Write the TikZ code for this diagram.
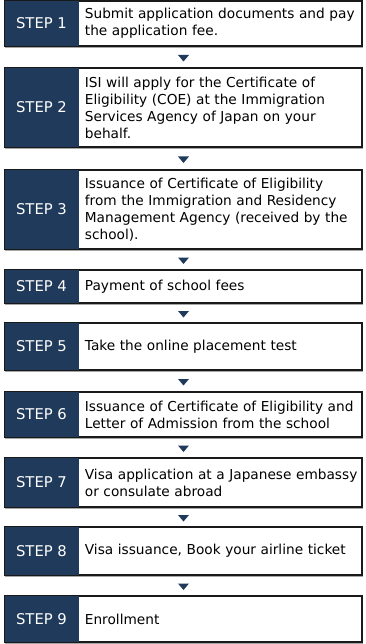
\documentclass[tikz,border=0pt]{standalone}
\usepackage{fontspec}
\setmainfont{DejaVu Sans}
\usetikzlibrary{calc}
\definecolor{navy}{RGB}{31,58,90}
\tikzset{
  framebox/.style={draw=black!90, line width=1.4pt, fill=white, inner sep=0pt, minimum width=357pt},
  shadowbox/.style={draw=black!35, line width=1.4pt, inner sep=0pt, minimum width=357pt},
  panel/.style={fill=navy, inner sep=0pt, minimum width=74pt, text=white, font=\fontsize{14.8}{16}\selectfont},
  txt/.style={inner sep=0pt, text width=278pt, align=left, font=\fontsize{13.7}{17}\selectfont},
  tri/.style={fill=navy}
}
\newcommand\mkstep[4]{%
  \pgfmathsetmacro\hh{#3-#2}%
  \node[shadowbox, minimum height=\hh pt] (sh#1) at (184,{(#2+#3)/2+1}) {};
  \node[framebox, minimum height=\hh pt] (b#1) at (183.5,{(#2+#3)/2}) {};
  \node[panel, minimum height=\hh pt, anchor=west] (s#1) at (b#1.west) {STEP #1};
  \draw[black!90, line width=1.4pt] (b#1.north west) rectangle (b#1.south east);
  \node[txt, anchor=west] (t#1) at ([xshift=6pt]s#1.east) {#4};
}
\newcommand\mkarrow[2]{%
  \coordinate (m#1) at ($(b#1.south)!0.5!(b#2.north)+(0,1)$);
  \fill[tri] ($(m#1)+(-5.5,-3)$) -- ($(m#1)+(5.5,-3)$) -- ($(m#1)+(0,3.5)$) -- cycle;
}
\begin{document}
\begin{tikzpicture}[x=1pt,y=-1pt]
\useasboundingbox (0,0) rectangle (366,644);
\mkstep{1}{1}{46}{Submit application documents and pay\\the application fee.}
\mkstep{2}{68}{147}{ISI will apply for the Certificate of\\Eligibility (COE) at the Immigration\\Services Agency of Japan on your\\behalf.}
\mkstep{3}{170}{249}{Issuance of Certificate of Eligibility\\from the Immigration and Residency\\Management Agency (received by the\\school).}
\mkstep{4}{270}{303}{Payment of school fees}
\mkstep{5}{323}{370}{Take the online placement test}
\mkstep{6}{392}{437}{Issuance of Certificate of Eligibility and\\Letter of Admission from the school}
\mkstep{7}{458}{507}{Visa application at a Japanese embassy\\or consulate abroad}
\mkstep{8}{527}{575}{Visa issuance, Book your airline ticket}
\mkstep{9}{596}{642}{Enrollment}
\mkarrow{1}{2}
\mkarrow{2}{3}
\mkarrow{3}{4}
\mkarrow{4}{5}
\mkarrow{5}{6}
\mkarrow{6}{7}
\mkarrow{7}{8}
\mkarrow{8}{9}
\end{tikzpicture}
\end{document}
